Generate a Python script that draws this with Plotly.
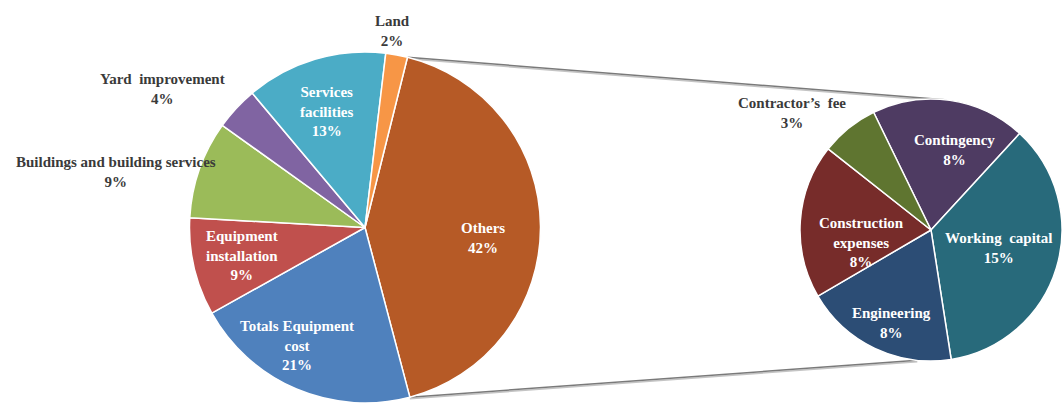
import math
import plotly.graph_objects as go

# Primary breakdown of total capital investment (percent)
main_labels = ["Others", "Totals Equipment<br>cost", "Equipment<br>installation",
               "Buildings and building services", "Yard  improvement",
               "Services<br>facilities", "Land"]
main_values = [42, 21, 9, 9, 4, 13, 2]

# Breakdown of the "Others" share (percent of total)
sub_labels = ["Contingency", "Working  capital", "Engineering",
              "Construction<br>expenses", "Contractor\u2019s  fee"]
sub_values = [8, 15, 8, 8, 3]

W, H = 1062, 403

main_colors = ["#B65A26", "#4F81BD", "#C0504D", "#9BBB59", "#8064A2", "#4BACC6", "#F79646"]
sub_colors = ["#4E3B62", "#286A7B", "#2C4D75", "#772C2A", "#5F7530"]

# pie geometry in pixels
main_cx, main_r = 365.0, 175.5
main_cy = H - main_r
main_rot = 14
sub_cx, sub_r = W - 131.0, 131.0
sub_cy = 230.0
sub_rot = -26

FONT = "'Liberation Serif', 'Times New Roman', Times, serif"


def px(x):
    return x / W


def py(y):
    return 1 - y / H


fig = go.Figure()
fig.add_trace(go.Pie(
    values=main_values, labels=main_labels, sort=False, direction="clockwise",
    rotation=main_rot, textinfo="none", hoverinfo="label+percent",
    marker=dict(colors=main_colors, line=dict(color="white", width=1.5)),
    domain=dict(x=[px(main_cx - main_r), px(main_cx + main_r)],
                y=[0, 2 * main_r / H]),
    showlegend=False,
))
fig.add_trace(go.Pie(
    values=sub_values, labels=sub_labels, sort=False, direction="clockwise",
    rotation=sub_rot, textinfo="none", hoverinfo="label+value",
    marker=dict(colors=sub_colors, line=dict(color="white", width=1.5)),
    domain=dict(x=[px(sub_cx - sub_r), 1],
                y=[py(sub_cy + sub_r), py(sub_cy - sub_r)]),
    showlegend=False,
))

# label placement (pixel centres) and style: inside labels white, outside dark
main_pos = [(483, 238, "in"), (297, 345, "in"), (242, 255, "in"), (116, 172, "out"),
            (162, 89, "out"), (326, 112, "in"), (392, 31, "out")]
sub_pos = [(954, 150, "in"), (999, 248, "in"), (891, 323, "in"),
           (861, 242, "in"), (792, 113, "out")]

annotations = []
for labels, values, pos in ((main_labels, main_values, main_pos),
                            (sub_labels, sub_values, sub_pos)):
    for lab, val, (x, y, where) in zip(labels, values, pos):
        annotations.append(dict(
            x=px(x), y=py(y), xref="paper", yref="paper",
            text=f"<b>{lab}<br>{val}%</b>", showarrow=False,
            xanchor="center", yanchor="middle", align="center",
            font=dict(family=FONT, size=15,
                      color="white" if where == "in" else "#3A3A3A"),
        ))

# connector lines from the edges of the "Others" slice to the secondary pie
total = sum(main_values)
a0 = math.radians(main_rot)
a1 = math.radians(main_rot + 360 * main_values[0] / total)
p_top = (main_cx + main_r * math.sin(a0), main_cy - main_r * math.cos(a0))
p_bot = (main_cx + main_r * math.sin(a1), main_cy - main_r * math.cos(a1))
s0, s1 = math.radians(6), math.radians(186)
q_top = (sub_cx + sub_r * math.sin(s0), sub_cy - sub_r * math.cos(s0))
q_bot = (sub_cx + sub_r * math.sin(s1), sub_cy - sub_r * math.cos(s1))

shapes = []
for (xa, ya), (xb, yb) in ((p_top, q_top), (p_bot, q_bot)):
    shapes.append(dict(type="line", xref="paper", yref="paper",
                       x0=px(xa), y0=py(ya + 1.5), x1=px(xb), y1=py(yb + 1.5),
                       line=dict(color="#C4C4C4", width=1.5), layer="below"))
    shapes.append(dict(type="line", xref="paper", yref="paper",
                       x0=px(xa), y0=py(ya), x1=px(xb), y1=py(yb),
                       line=dict(color="#7A7A7A", width=1.5), layer="below"))

fig.update_layout(
    width=W, height=H, margin=dict(l=0, r=0, t=0, b=0),
    paper_bgcolor="white", plot_bgcolor="white",
    font=dict(family=FONT),
    annotations=annotations, shapes=shapes,
)

fig.write_html("out.html")
